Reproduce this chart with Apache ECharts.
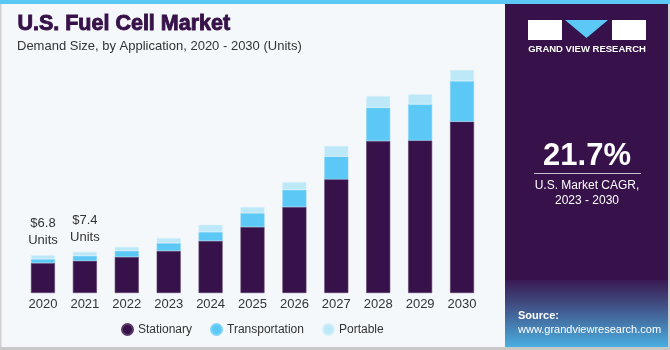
<!DOCTYPE html>
<html>
<head>
<meta charset="utf-8">
<script src="https://cdn.jsdelivr.net/npm/echarts@6/dist/echarts.min.js"></script>
<style>
  html, body { margin: 0; padding: 0; background: #fff; }
  #main { width: 670px; height: 350px; }
</style>
</head>
<body>
<div id="main"></div>
<script>
// data (units)
var years = ['2020', '2021', '2022', '2023', '2024', '2025', '2026', '2027', '2028', '2029', '2030'];
var stationary = [5.4, 5.8, 6.5, 7.6, 9.4, 11.9, 15.5, 20.5, 27.4, 27.5, 30.9];
var transportation = [0.7, 0.9, 1.1, 1.4, 1.6, 2.5, 3.1, 4.1, 6.0, 6.5, 7.3];
var portable = [0.7, 0.7, 0.7, 0.9, 1.3, 1.1, 1.4, 1.9, 2.1, 1.8, 2.0];
var topLabels = ['$6.8', '$7.4'];

var font = '"Liberation Sans", Arial, sans-serif';
var purple = '#371149';

var chart = echarts.init(document.getElementById('main'), null, { renderer: 'canvas' });

// portable is the top of the stack, the first two bars carry the value text
var portableData = portable.map(function (v, i) {
  if (i < topLabels.length) {
    return {
      value: v,
      label: {
        show: true,
        position: 'top',
        distance: 6,
        formatter: topLabels[i] + '\nUnits',
        color: '#333',
        fontSize: 13,
        lineHeight: 17,
        fontFamily: font
      }
    };
  }
  return v;
});

var option = {
  backgroundColor: '#F4F8FB',
  animation: false,
  grid: { left: 22, right: 187, top: 60, bottom: 57, containLabel: false },
  legend: {
    data: ['Stationary', 'Transportation', 'Portable'],
    left: 116,
    top: 318,
    icon: 'circle',
    itemWidth: 11,
    itemHeight: 11,
    itemGap: 18,
    textStyle: { color: '#333', fontSize: 12, fontFamily: font }
  },
  xAxis: {
    type: 'category',
    data: years,
    axisLine: { show: false },
    axisTick: { show: false },
    axisLabel: { color: '#333', fontSize: 13, margin: 5, fontFamily: font }
  },
  yAxis: {
    type: 'value',
    min: 0,
    max: 42,
    show: false,
    splitLine: { show: false }
  },
  series: [
    {
      name: 'Stationary', type: 'bar', stack: 'total', barWidth: 24,
      itemStyle: { color: purple, borderColor: '#5a3a6b', borderWidth: 0.6 },
      data: stationary
    },
    {
      name: 'Transportation', type: 'bar', stack: 'total', barWidth: 24,
      itemStyle: { color: '#5BC8F5', borderColor: '#7fd3f5', borderWidth: 0.6 },
      data: transportation
    },
    {
      name: 'Portable', type: 'bar', stack: 'total', barWidth: 24,
      itemStyle: { color: '#BDE8F8', borderColor: '#d3effa', borderWidth: 0.6 },
      data: portableData
    }
  ],
  graphic: [
    // frame lines
    { type: 'rect', shape: { x: 0, y: 0, width: 670, height: 4 }, style: { fill: '#5BC8F5' }, z: 10 },
    { type: 'rect', shape: { x: 0, y: 347, width: 670, height: 3 }, style: { fill: '#c8c8c8' }, z: 10 },
    { type: 'rect', shape: { x: 0, y: 0, width: 1.5, height: 350 }, style: { fill: '#d0d0d0' }, z: 9 },
    { type: 'rect', shape: { x: 668, y: 0, width: 2, height: 350 }, style: { fill: '#d0d0d0' }, z: 9 },
    // title
    { type: 'text', left: 17, top: 13, style: { text: 'U.S. Fuel Cell Market', fill: purple, stroke: purple, lineWidth: 0.9, font: 'bold 21.5px ' + font } },
    { type: 'text', left: 17, top: 40, style: { text: 'Demand Size, by Application, 2020 - 2030 (Units)', fill: '#333', font: '13px ' + font } },
    // right panel
    { type: 'rect', shape: { x: 505, y: 4, width: 163, height: 343 }, style: { fill: purple }, z: 1 },
    {
      type: 'rect', shape: { x: 505, y: 280, width: 163, height: 67 }, z: 2,
      style: {
        fill: new echarts.graphic.LinearGradient(0, 0, 0, 1, [
          { offset: 0, color: '#3a1a54' },
          { offset: 0.3, color: '#3f4479' },
          { offset: 1, color: '#4aaee0' }
        ])
      }
    },
    // logo
    { type: 'rect', shape: { x: 528, y: 20, width: 34, height: 20 }, style: { fill: '#fff' }, z: 3 },
    { type: 'polygon', shape: { points: [[565, 20], [608, 20], [586.5, 38]] }, style: { fill: '#5BC8F5' }, z: 3 },
    { type: 'rect', shape: { x: 612, y: 20, width: 34, height: 20 }, style: { fill: '#fff' }, z: 3 },
    { type: 'text', x: 587, y: 49, style: { text: 'GRAND VIEW RESEARCH', fill: '#fff', font: 'bold 9.5px ' + font, align: 'center', verticalAlign: 'middle' }, z: 3 },
    // CAGR
    { type: 'text', x: 587, y: 156, style: { text: '21.7%', fill: '#fff', font: 'bold 31px ' + font, align: 'center', verticalAlign: 'middle' }, z: 3 },
    { type: 'rect', shape: { x: 534, y: 173, width: 107, height: 1 }, style: { fill: '#c9bfd0' }, z: 3 },
    { type: 'text', x: 587, y: 186, style: { text: 'U.S. Market CAGR,', fill: '#fff', font: '12px ' + font, align: 'center', verticalAlign: 'middle' }, z: 3 },
    { type: 'text', x: 587, y: 201, style: { text: '2023 - 2030', fill: '#fff', font: '12px ' + font, align: 'center', verticalAlign: 'middle' }, z: 3 },
    // source
    { type: 'text', left: 518, top: 310, style: { text: 'Source:', fill: '#fff', font: 'bold 11px ' + font }, z: 3 },
    { type: 'text', left: 518, top: 324, style: { text: 'www.grandviewresearch.com', fill: '#fff', font: '11px ' + font }, z: 3 }
  ]
};

chart.setOption(option);
</script>
</body>
</html>
